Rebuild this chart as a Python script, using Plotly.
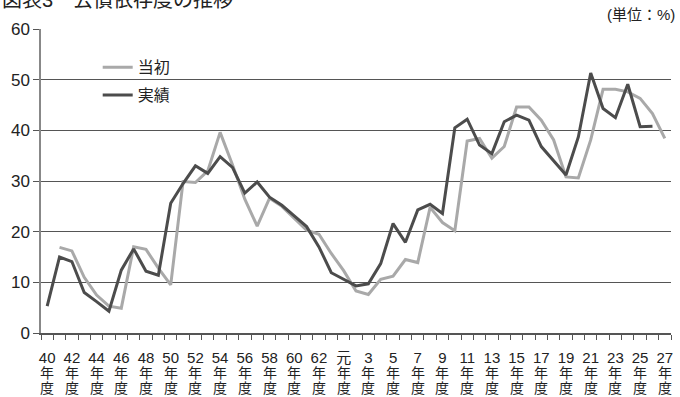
import plotly.graph_objects as go

# Fiscal years: Showa 40-63, then Heisei 1 (元) - 27
years = [f"S{y}" for y in range(40, 64)] + [f"H{y}" for y in range(1, 28)]
tick_labels = (
    [str(y) for y in range(40, 64)]
    + ["元"] + [str(y) for y in range(2, 28)]
)

# Bond dependency ratio (%), initial budget
initial = [None, 16.9, 16.2, 11.0, 7.5, 5.3, 4.9, 17.0, 16.5, 12.8,
           9.5, 29.9, 29.7, 32.0, 39.6, 33.2, 26.4, 21.1, 26.6, 25.0,
           22.6, 20.3, 19.5, 15.7, 12.3, 8.3, 7.6, 10.6, 11.2, 14.5,
           13.9, 24.8, 21.8, 20.2, 37.9, 38.4, 34.5, 36.8, 44.6, 44.6,
           42.0, 38.1, 30.8, 30.6, 38.1, 48.1, 48.1, 47.6, 46.3, 43.3,
           38.4]

# Bond dependency ratio (%), actual results
actual = [5.3, 15.0, 14.1, 8.0, 6.2, 4.3, 12.4, 16.6, 12.2, 11.4,
          25.6, 29.5, 33.0, 31.5, 34.8, 32.7, 27.6, 29.8, 26.8, 25.2,
          23.1, 21.0, 17.0, 11.9, 10.6, 9.3, 9.7, 13.7, 21.6, 17.9,
          24.3, 25.4, 23.6, 40.5, 42.2, 37.1, 35.4, 41.7, 43.0, 42.0,
          36.8, 34.1, 31.2, 38.7, 51.3, 44.3, 42.5, 49.1, 40.7, 40.8,
          None]

FONT = "Liberation Sans, Noto Sans CJK JP, sans-serif"
idx = list(range(len(years)))

fig = go.Figure()
fig.add_trace(go.Scatter(
    x=idx, y=initial, mode="lines", name="当初",
    line=dict(color="#a9a9a9", width=3), legendgroup="a",
))
fig.add_trace(go.Scatter(
    x=idx, y=actual, mode="lines", name="実績",
    line=dict(color="#4c4c4c", width=3), legendgroup="b",
))

show = [i for i in idx if i % 2 == 0]
fig.update_xaxes(
    range=[-0.5, len(years) - 0.5],
    tickvals=show,
    ticktext=[tick_labels[i] for i in show],
    ticks="", tickangle=0, ticklabelstandoff=10,
    tickfont=dict(family=FONT, size=15, color="#222"),
    showgrid=False, zeroline=False,
    showline=True, linecolor="#555", linewidth=1.5,
    minor=dict(tickvals=[i - 0.5 for i in range(len(years) + 1)],
               ticks="outside", ticklen=5, tickcolor="#555", tickwidth=1),
)
fig.update_yaxes(
    range=[0, 60], dtick=10,
    showgrid=True, gridcolor="#555", gridwidth=1,
    zeroline=False, showline=True, linecolor="#888", linewidth=1.5,
    ticks="outside", ticklen=6, tickcolor="#555",
    tickfont=dict(family=FONT, size=17, color="#222"),
)

# "年" / "度" rows stacked under each numeric year label
annotations = []
for i in show:
    for ch, shift in (("年", -39.5), ("度", -54.5)):
        annotations.append(dict(
            text=ch, x=i, xref="x", y=0, yref="paper",
            yanchor="middle", yshift=shift, showarrow=False,
            font=dict(family=FONT, size=14, color="#222"),
        ))

annotations += [
    dict(text="図表3　公債依存度の推移", xref="paper", yref="paper",
         x=0, y=1, xanchor="left", yanchor="bottom",
         xshift=-41, yshift=16, showarrow=False,
         font=dict(family=FONT, size=20, color="#222")),
    dict(text="(単位：%)", xref="paper", yref="paper",
         x=1, y=1, xanchor="right", yanchor="bottom",
         xshift=6, yshift=4, showarrow=False,
         font=dict(family=FONT, size=15, color="#222")),
]

fig.update_layout(
    width=680, height=397,
    margin=dict(l=41, r=7, t=29, b=64),
    plot_bgcolor="white", paper_bgcolor="white",
    showlegend=True,
    legend=dict(
        x=0.09, y=0.93, xanchor="left", yanchor="top",
        font=dict(family=FONT, size=16, color="#222"),
        bgcolor="rgba(0,0,0,0)", tracegroupgap=4,
    ),
    annotations=annotations,
)

fig.write_html("out.html")
